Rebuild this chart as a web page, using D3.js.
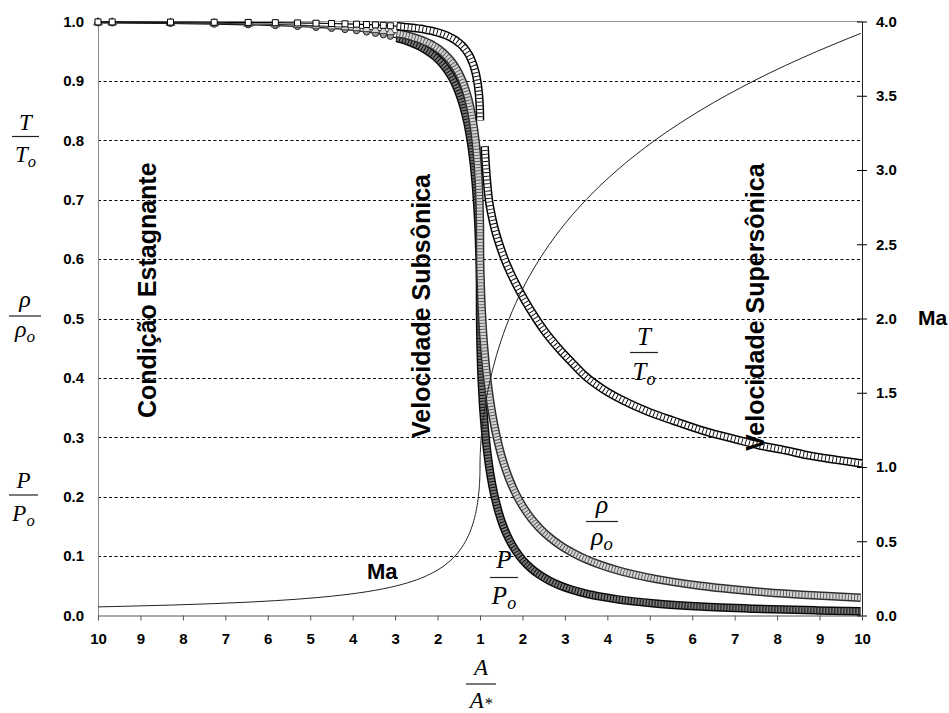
<!DOCTYPE html>
<html>
<head>
<meta charset="utf-8">
<script src="https://cdn.jsdelivr.net/npm/d3@7/dist/d3.min.js"></script>
<style>
  body { margin: 0; background: #fff; }
  svg { display: block; }
  text { font-family: "Liberation Sans", Arial, sans-serif; fill: #000; }
  .frac text { font-family: "Liberation Serif", "Times New Roman", serif; font-style: italic; }
</style>
</head>
<body>
<div id="chart"></div>
<script>
// subsonic branch, read from the left half (A/A* falls from 10 to the throat)
const subMach = [0.058, 0.06, 0.07, 0.08, 0.09, 0.10, 0.11, 0.12, 0.13, 0.14, 0.15, 0.16, 0.17, 0.18, 0.19, 0.20,
  0.21, 0.22, 0.23, 0.24, 0.25, 0.26, 0.27, 0.28, 0.29, 0.30, 0.32, 0.34, 0.36, 0.38, 0.40, 0.42, 0.44, 0.46, 0.48,
  0.50, 0.52, 0.54, 0.56, 0.58, 0.60, 0.62, 0.64, 0.66, 0.68, 0.70, 0.72, 0.74, 0.76, 0.78, 0.80, 0.82, 0.84, 0.86,
  0.88, 0.90, 0.92, 0.94, 0.96, 0.98, 1.00];
const subArea = [10.00, 9.666, 8.292, 7.262, 6.461, 5.822, 5.299, 4.864, 4.497, 4.182, 3.910, 3.673, 3.464, 3.278,
  3.112, 2.964, 2.829, 2.708, 2.597, 2.496, 2.403, 2.317, 2.239, 2.166, 2.098, 2.035, 1.922, 1.823, 1.736, 1.659,
  1.590, 1.529, 1.474, 1.425, 1.380, 1.340, 1.303, 1.270, 1.240, 1.213, 1.188, 1.166, 1.145, 1.127, 1.110, 1.094,
  1.081, 1.068, 1.057, 1.047, 1.038, 1.031, 1.024, 1.018, 1.013, 1.009, 1.006, 1.003, 1.001, 1.0003, 1.000];
const subTemp = [0.9993, 0.9993, 0.9990, 0.9987, 0.9984, 0.9980, 0.9976, 0.9971, 0.9966, 0.9961, 0.9955, 0.9949,
  0.9943, 0.9936, 0.9928, 0.9921, 0.9912, 0.9904, 0.9895, 0.9886, 0.9877, 0.9867, 0.9856, 0.9846, 0.9835, 0.9823,
  0.9799, 0.9774, 0.9747, 0.9719, 0.9690, 0.9659, 0.9627, 0.9594, 0.9560, 0.9524, 0.9487, 0.9449, 0.9410, 0.9370,
  0.9328, 0.9286, 0.9243, 0.9199, 0.9154, 0.9108, 0.9061, 0.9013, 0.8965, 0.8915, 0.8865, 0.8815, 0.8763, 0.8711,
  0.8659, 0.8606, 0.8552, 0.8498, 0.8444, 0.8389, 0.8333];
const subDensity = [0.9983, 0.9982, 0.9976, 0.9968, 0.9960, 0.9950, 0.9940, 0.9928, 0.9916, 0.9903, 0.9888, 0.9873,
  0.9857, 0.9840, 0.9822, 0.9803, 0.9783, 0.9762, 0.9740, 0.9718, 0.9694, 0.9670, 0.9645, 0.9619, 0.9592, 0.9564,
  0.9506, 0.9445, 0.9380, 0.9313, 0.9243, 0.9170, 0.9094, 0.9016, 0.8935, 0.8852, 0.8766, 0.8679, 0.8589, 0.8498,
  0.8405, 0.8310, 0.8213, 0.8115, 0.8016, 0.7916, 0.7814, 0.7712, 0.7609, 0.7505, 0.7400, 0.7295, 0.7189, 0.7083,
  0.6977, 0.6870, 0.6764, 0.6658, 0.6551, 0.6445, 0.6339];
const subPressure = [0.9977, 0.9975, 0.9966, 0.9955, 0.9944, 0.9930, 0.9916, 0.9900, 0.9883, 0.9864, 0.9844, 0.9823,
  0.9800, 0.9776, 0.9751, 0.9725, 0.9697, 0.9668, 0.9638, 0.9607, 0.9575, 0.9541, 0.9506, 0.9470, 0.9433, 0.9395,
  0.9315, 0.9231, 0.9143, 0.9052, 0.8956, 0.8857, 0.8755, 0.8650, 0.8541, 0.8430, 0.8317, 0.8201, 0.8082, 0.7962,
  0.7840, 0.7716, 0.7591, 0.7465, 0.7338, 0.7209, 0.7080, 0.6951, 0.6821, 0.6691, 0.6560, 0.6430, 0.6300, 0.6170,
  0.6041, 0.5913, 0.5785, 0.5658, 0.5532, 0.5407, 0.5283];

// supersonic branch, read from the right half (A/A* grows from the throat to 10)
const supMach = [1.00, 1.05, 1.10, 1.15, 1.20, 1.25, 1.30, 1.40, 1.50, 1.60, 1.70, 1.80, 1.90, 2.00, 2.10, 2.20,
  2.30, 2.40, 2.50, 2.60, 2.70, 2.80, 2.90, 3.00, 3.20, 3.40, 3.60, 3.80, 3.92];
const supArea = [1.000, 1.002, 1.008, 1.018, 1.030, 1.047, 1.066, 1.115, 1.176, 1.250, 1.338, 1.439, 1.555, 1.688,
  1.837, 2.005, 2.193, 2.403, 2.637, 2.896, 3.183, 3.500, 3.850, 4.235, 5.121, 6.184, 7.450, 8.951, 9.970];
const supDensity = [0.6339, 0.6079, 0.5817, 0.5562, 0.5311, 0.5067, 0.4829, 0.4374, 0.3950, 0.3557, 0.3197, 0.2868,
  0.2570, 0.2300, 0.2058, 0.1841, 0.1646, 0.1472, 0.1317, 0.1179, 0.1056, 0.0946, 0.0849, 0.0762, 0.0617, 0.0501,
  0.0409, 0.0335, 0.0299];
const supPressure = [0.5283, 0.4979, 0.4684, 0.4398, 0.4124, 0.3861, 0.3609, 0.3142, 0.2724, 0.2353, 0.2026, 0.1740,
  0.1492, 0.1278, 0.1094, 0.0935, 0.0800, 0.0684, 0.0585, 0.0501, 0.0430, 0.0368, 0.0317, 0.0272, 0.0202, 0.0151,
  0.0114, 0.0086, 0.0073];
// T/To on the supersonic side sits at its own positions in the picture
const supTempArea = [1.11, 1.13, 1.16, 1.20, 1.27, 1.35, 1.46, 1.59, 1.75, 1.92, 2.10, 2.30, 2.55, 2.85, 3.15, 3.45,
  3.90, 4.40, 5.00, 5.55, 6.35, 7.00, 7.55, 8.20, 8.70, 9.40, 10.0];
const supTemp = [0.790, 0.765, 0.735, 0.705, 0.675, 0.650, 0.624, 0.598, 0.572, 0.548, 0.525, 0.502, 0.476, 0.450,
  0.427, 0.405, 0.381, 0.361, 0.342, 0.328, 0.309, 0.297, 0.287, 0.278, 0.270, 0.262, 0.256];

// axis ticks
const xTickLabels = [10, 9, 8, 7, 6, 5, 4, 3, 2, 1, 2, 3, 4, 5, 6, 7, 8, 9, 10];
const propTicks = [0.0, 0.1, 0.2, 0.3, 0.4, 0.5, 0.6, 0.7, 0.8, 0.9, 1.0];
const machTicks = [0.0, 0.5, 1.0, 1.5, 2.0, 2.5, 3.0, 3.5, 4.0];
const gridValues = [0.1, 0.2, 0.3, 0.4, 0.5, 0.6, 0.7, 0.8, 0.9];

const plot = { left: 98, right: 862, top: 21.5, bottom: 615.5 };

const svg = d3.select('#chart').append('svg')
  .attr('width', 949)
  .attr('height', 713);

// one linear scale, the throat in the middle: subsonic to the left, supersonic to the right
const x = d3.scaleLinear().domain([-9, 9]).range([plot.left, plot.right]);
const subX = a => x(1 - a);
const supX = a => x(a - 1);
const yProp = d3.scaleLinear().domain([0, 1]).range([plot.bottom, plot.top]);
const yMach = d3.scaleLinear().domain([0, 4]).range([plot.bottom, plot.top]);

//grid
svg.append('g').selectAll('line')
  .data(gridValues)
  .join('line')
  .attr('x1', plot.left).attr('x2', plot.right)
  .attr('y1', d => Math.round(yProp(d)) + 0.5)
  .attr('y2', d => Math.round(yProp(d)) + 0.5)
  .attr('stroke', '#000')
  .attr('stroke-width', 1)
  .attr('stroke-dasharray', '3,2.5');

svg.append('line')
  .attr('x1', plot.left).attr('x2', plot.right)
  .attr('y1', plot.top).attr('y2', plot.top)
  .attr('stroke', '#999');

// left axis
const leftAxis = svg.append('g')
  .attr('transform', 'translate(' + plot.left + ',0)')
  .call(d3.axisLeft(yProp).tickValues(propTicks).tickSize(0).tickSizeOuter(0).tickPadding(14)
    .tickFormat(d3.format('.1f')));
leftAxis.select('.domain').attr('stroke', '#8a8a8a');

// right axis (Mach)
const rightAxis = svg.append('g')
  .attr('transform', 'translate(' + plot.right + ',0)')
  .call(d3.axisRight(yMach).tickValues(machTicks).tickSize(5).tickSizeOuter(0).tickPadding(9)
    .tickFormat(d3.format('.1f')));
rightAxis.selectAll('.tick line').attr('x1', -5).attr('x2', 5);
rightAxis.select('.domain').attr('stroke', '#222');

// bottom axis
const bottomAxis = svg.append('g')
  .attr('transform', 'translate(0,' + plot.bottom + ')')
  .call(d3.axisBottom(x).tickValues(xTickLabels.map((d, i) => i - 9)).tickSize(5).tickSizeOuter(0)
    .tickPadding(13).tickFormat((d, i) => xTickLabels[i]));
bottomAxis.select('.domain').attr('stroke', '#555');
bottomAxis.selectAll('.tick line').attr('stroke', '#555');

svg.selectAll('.tick text')
  .style('font-size', '15px')
  .style('font-weight', 'bold')
  .attr('fill', '#000');

// series styles
const styles = {
  pressure: { symbol: d3.symbolCircle, size: 30, fill: '#9a9a9a', stroke: '#222', line: '#111',
    outer: '#0a0a0a', inner: '#7a7a7a', tick: '#0a0a0a', dash: '1,2' },
  density: { symbol: d3.symbolTriangle, size: 32, fill: '#d8d8d8', stroke: '#444', line: '#333',
    outer: '#2e2e2e', inner: '#d4d4d4', tick: '#555', dash: '0.9,2.2' },
  temp: { symbol: d3.symbolSquare, size: 36, fill: '#fff', stroke: '#000', line: '#000',
    outer: '#000', inner: '#fff', tick: '#000', dash: '0.9,2.8' }
};

const smooth = d3.line().x(d => d.x).y(d => d.y).curve(d3.curveMonotoneX);

function drawSeries(pts, st) {
  const g = svg.append('g');
  g.append('path')
    .attr('d', smooth(pts))
    .attr('fill', 'none')
    .attr('stroke', st.line)
    .attr('stroke-width', 1.2);

  // where the markers pile up they read as a hollow band
  const dense = pts.filter(d => d.dense);
  if (dense.length > 1) {
    const d = smooth(dense);
    g.append('path').attr('d', d).attr('fill', 'none')
      .attr('stroke', st.outer).attr('stroke-width', 8.5).attr('stroke-linejoin', 'round');
    g.append('path').attr('d', d).attr('fill', 'none')
      .attr('stroke', st.inner).attr('stroke-width', 5.5);
    g.append('path').attr('d', d).attr('fill', 'none')
      .attr('stroke', st.tick).attr('stroke-width', 5.5).attr('stroke-dasharray', st.dash);
  }

  g.selectAll('path.mark')
    .data(pts.filter(d => !d.dense))
    .join('path')
    .attr('class', 'mark')
    .attr('transform', d => 'translate(' + d.x + ',' + d.y + ')')
    .attr('d', d3.symbol(st.symbol, st.size)())
    .attr('fill', st.fill)
    .attr('stroke', st.stroke)
    .attr('stroke-width', 1);
}

function subPoints(values) {
  return subArea.map((a, i) => ({ x: subX(a), y: yProp(values[i]), dense: subMach[i] >= 0.2 }));
}
function supPoints(areas, values) {
  return areas.map((a, i) => ({ x: supX(a), y: yProp(values[i]), dense: true }));
}

drawSeries(subPoints(subPressure), styles.pressure);
drawSeries(supPoints(supArea, supPressure), styles.pressure);
drawSeries(subPoints(subDensity), styles.density);
drawSeries(supPoints(supArea, supDensity), styles.density);
drawSeries(subPoints(subTemp), styles.temp);
drawSeries(supPoints(supTempArea, supTemp), styles.temp);

// Mach number, right axis
const machLine = d3.line().curve(d3.curveMonotoneX);
svg.append('path')
  .attr('d', machLine(subArea.map((a, i) => [subX(a), yMach(subMach[i])])))
  .attr('fill', 'none').attr('stroke', '#222').attr('stroke-width', 1);
svg.append('path')
  .attr('d', machLine(supArea.map((a, i) => [supX(a), yMach(supMach[i])])))
  .attr('fill', 'none').attr('stroke', '#222').attr('stroke-width', 1);

// fraction labels
function fraction(cx, lineY, width, num, den, sub, size, numOff, denOff, subDy) {
  const f = svg.append('g').attr('class', 'frac');
  f.append('text')
    .attr('x', cx).attr('y', lineY - numOff)
    .attr('text-anchor', 'middle')
    .style('font-size', size + 'px')
    .text(num);
  f.append('line')
    .attr('x1', cx - width / 2).attr('x2', cx + width / 2)
    .attr('y1', lineY).attr('y2', lineY)
    .attr('stroke', '#222').attr('stroke-width', 1.2);
  const t = f.append('text')
    .attr('x', cx).attr('y', lineY + denOff)
    .attr('text-anchor', 'middle')
    .style('font-size', size + 'px');
  t.append('tspan').text(den);
  t.append('tspan').attr('dy', subDy).style('font-size', (size * 0.72) + 'px').text(sub);
}

fraction(25.5, 136.5, 27, 'T', 'T', 'o', 23, 7, 25, 5);
fraction(25, 316, 32, 'ρ', 'ρ', 'o', 24, 9, 21, 5);
fraction(23.5, 495, 29, 'P', 'P', 'o', 23, 7, 26, 5);
fraction(644, 352.5, 28, 'T', 'T', 'o', 25, 8, 27, 5);
fraction(602, 521.5, 32, 'ρ', 'ρ', 'o', 26, 9, 23, 5);
fraction(504, 577.5, 28, 'P', 'P', 'o', 25, 9.5, 26, 5);
fraction(481, 684, 30, 'A', 'A', '*', 23, 9, 24, 1);

// region captions
function vertical(xb, yb, label) {
  svg.append('text')
    .attr('transform', 'translate(' + xb + ',' + yb + ') rotate(-90)')
    .style('font-size', '25px')
    .style('font-weight', 'bold')
    .text(label);
}
vertical(156, 418, 'Condição Estagnante');
vertical(430, 438, 'Velocidade Subsônica');
vertical(764, 451, 'Velocidade Supersônica');

svg.append('text')
  .attr('x', 367).attr('y', 579)
  .style('font-size', '22px').style('font-weight', 'bold')
  .text('Ma');
svg.append('text')
  .attr('x', 918).attr('y', 325)
  .style('font-size', '21px').style('font-weight', 'bold')
  .text('Ma');
</script>
</body>
</html>
